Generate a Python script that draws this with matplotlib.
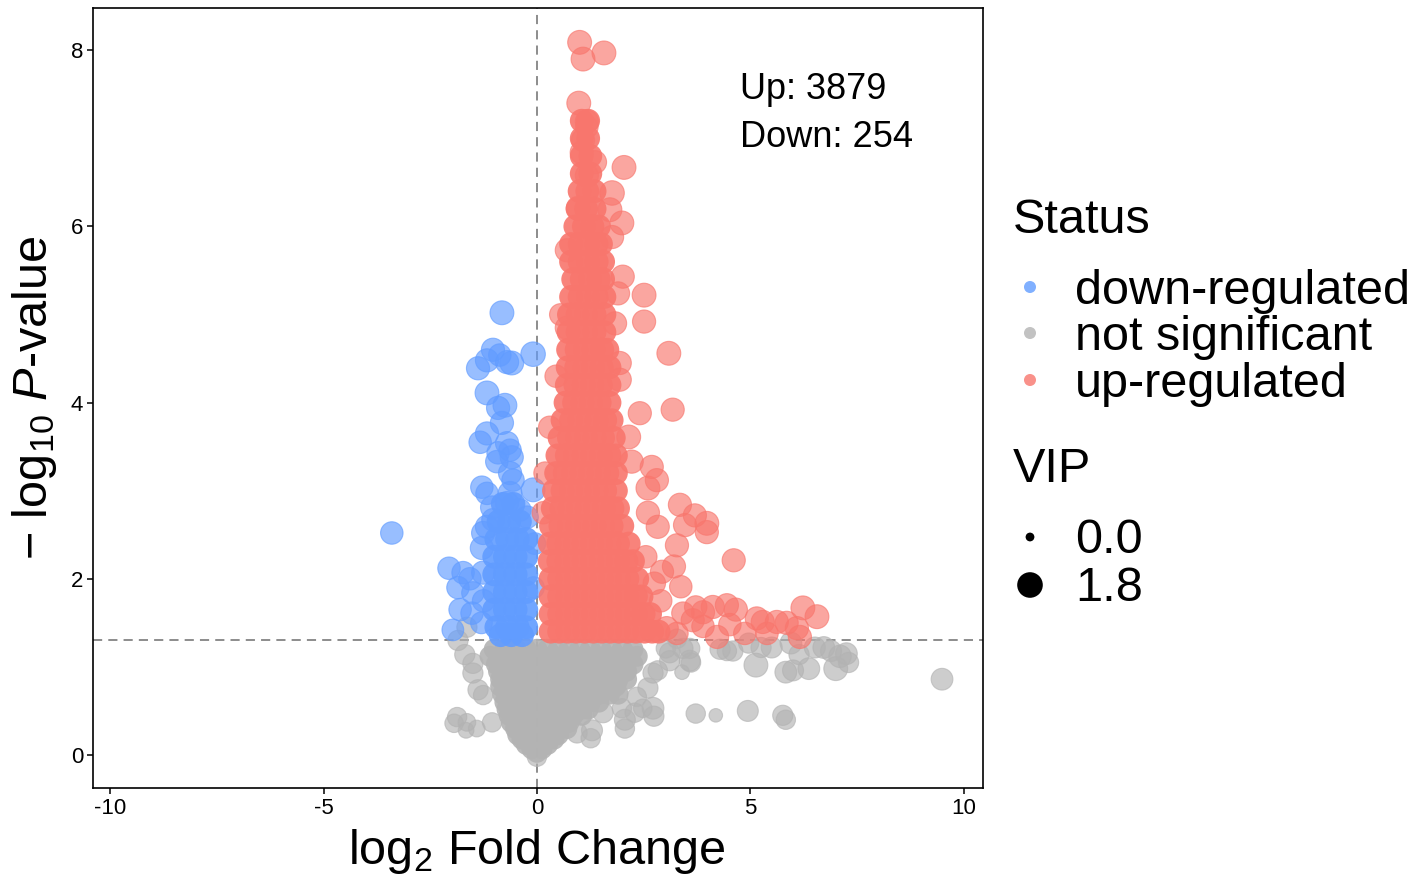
import matplotlib
matplotlib.use("Agg")
import matplotlib.pyplot as plt

plt.rcParams['font.family'] = ['Liberation Sans', 'DejaVu Sans']
plt.rcParams['mathtext.fontset'] = 'custom'
plt.rcParams['mathtext.rm'] = 'Liberation Sans'
plt.rcParams['mathtext.it'] = 'Liberation Sans:italic'
plt.rcParams['mathtext.bf'] = 'Liberation Sans:bold'
plt.rcParams['axes.unicode_minus'] = False

# ---------------- data ----------------
status_labels = ["down-regulated", "not significant", "up-regulated"]
status_colors = ["#619CFF", "#B3B3B3", "#F8766D"]
vip_breaks = [0.0, 1.8]
n_up = 3879
n_down = 254
p_cut = 1.3          # -log10(0.05)
fc_cut = 0.0
x_ticks = [-10, -5, 0, 5, 10]
x_ticklabels = ["-10", "-5", "0", "5", "10"]
y_ticks = [0, 2, 4, 6, 8]
y_ticklabels = ["0", "2", "4", "6", "8"]

# dense cores read row by row: (-log10 p, [log2 FC values]), VIP of core points
up_core_rows = [
    (7.20, [1.05, 1.20]),
    (7.00, [1.05, 1.20]),
    (6.80, [1.05, 1.25]),
    (6.60, [1.05, 1.25]),
    (6.40, [1.00, 1.18, 1.35]),
    (6.20, [0.95, 1.15, 1.35]),
    (6.00, [0.90, 1.10, 1.30, 1.45]),
    (5.80, [0.80, 1.00, 1.20, 1.40, 1.50]),
    (5.60, [0.80, 1.00, 1.20, 1.40, 1.55]),
    (5.40, [0.85, 1.05, 1.25, 1.45, 1.55]),
    (5.20, [0.80, 1.00, 1.20, 1.40, 1.58]),
    (5.00, [0.75, 0.95, 1.15, 1.35, 1.58]),
    (4.80, [0.74, 0.95, 1.15, 1.35, 1.58]),
    (4.60, [0.73, 0.93, 1.13, 1.33, 1.53, 1.65]),
    (4.40, [0.72, 0.92, 1.12, 1.32, 1.52, 1.70]),
    (4.20, [0.70, 0.90, 1.10, 1.30, 1.50, 1.70]),
    (4.00, [0.67, 0.87, 1.07, 1.27, 1.47, 1.70]),
    (3.80, [0.60, 0.80, 1.00, 1.20, 1.40, 1.60, 1.75]),
    (3.60, [0.53, 0.75, 0.95, 1.15, 1.35, 1.55, 1.80]),
    (3.40, [0.48, 0.70, 0.90, 1.10, 1.30, 1.50, 1.70, 1.85]),
    (3.20, [0.45, 0.65, 0.85, 1.05, 1.25, 1.45, 1.65, 1.85]),
    (3.00, [0.40, 0.60, 0.80, 1.00, 1.20, 1.40, 1.60, 1.85]),
    (2.80, [0.37, 0.57, 0.77, 0.97, 1.17, 1.37, 1.57, 1.77, 1.90]),
    (2.60, [0.33, 0.55, 0.75, 0.95, 1.15, 1.35, 1.55, 1.75, 2.00]),
    (2.40, [0.30, 0.50, 0.70, 0.90, 1.10, 1.30, 1.50, 1.70, 1.90, 2.15]),
    (2.20, [0.30, 0.50, 0.70, 0.90, 1.10, 1.30, 1.50, 1.70, 1.90, 2.10, 2.25]),
    (2.00, [0.32, 0.52, 0.72, 0.92, 1.12, 1.32, 1.52, 1.72, 1.92, 2.12, 2.35]),
    (1.80, [0.32, 0.52, 0.72, 0.92, 1.12, 1.32, 1.52, 1.72, 1.92, 2.12, 2.32, 2.45]),
    (1.60, [0.32, 0.52, 0.72, 0.92, 1.12, 1.32, 1.52, 1.72, 1.92, 2.12, 2.32, 2.50, 2.65]),
    (1.40, [0.32, 0.52, 0.72, 0.92, 1.12, 1.32, 1.52, 1.72, 1.92, 2.12, 2.32, 2.52, 2.70, 2.85]),
]
up_core_vip = 1.5

down_core_rows = [
    (2.85, [-0.80, -0.55]),
    (2.65, [-0.90, -0.65, -0.40]),
    (2.45, [-0.95, -0.70, -0.45, -0.25]),
    (2.25, [-1.00, -0.75, -0.50, -0.25]),
    (2.05, [-1.00, -0.75, -0.50, -0.25]),
    (1.85, [-1.00, -0.75, -0.50, -0.25]),
    (1.65, [-1.00, -0.75, -0.50, -0.25]),
    (1.45, [-0.95, -0.70, -0.45, -0.25]),
    (1.36, [-0.85, -0.60, -0.35]),
]
down_core_vip = 1.5

ns_core_rows = [
    (1.20, [-1.00, -0.75, -0.50, -0.25, 0.00, 0.25, 0.50, 0.75, 1.00, 1.25, 1.50, 1.75, 2.00, 2.25]),
    (1.12, [-1.10, -0.85, -0.60, -0.35, -0.10, 0.15, 0.40, 0.65, 0.90, 1.15, 1.40, 1.65, 1.90, 2.15, 2.35]),
    (1.03, [-0.95, -0.70, -0.45, -0.20, 0.05, 0.30, 0.55, 0.80, 1.05, 1.30, 1.55, 1.80, 2.05, 2.25]),
    (0.95, [-0.90, -0.65, -0.40, -0.15, 0.10, 0.35, 0.60, 0.85, 1.10, 1.35, 1.60, 1.85, 2.10]),
    (0.86, [-0.85, -0.60, -0.35, -0.10, 0.15, 0.40, 0.65, 0.90, 1.15, 1.40, 1.65, 1.90, 2.10]),
    (0.78, [-0.85, -0.60, -0.35, -0.10, 0.15, 0.40, 0.65, 0.90, 1.15, 1.40, 1.65, 1.85]),
    (0.69, [-0.80, -0.55, -0.30, -0.05, 0.20, 0.45, 0.70, 0.95, 1.20, 1.45, 1.70, 1.90]),
    (0.60, [-0.75, -0.50, -0.25, 0.00, 0.25, 0.50, 0.75, 1.00, 1.25, 1.45]),
    (0.52, [-0.70, -0.45, -0.20, 0.05, 0.30, 0.55, 0.80, 1.05, 1.20]),
    (0.45, [-0.65, -0.40, -0.15, 0.10, 0.35, 0.60, 0.85, 1.05]),
    (0.37, [-0.60, -0.35, -0.10, 0.15, 0.40, 0.65, 0.75]),
    (0.30, [-0.50, -0.25, 0.00, 0.25, 0.50, 0.70]),
    (0.23, [-0.45, -0.20, 0.05, 0.30, 0.50]),
    (0.18, [-0.35, -0.10, 0.15, 0.40]),
    (0.12, [-0.25, 0.00, 0.25]),
    (0.07, [-0.12, 0.12]),
    (0.03, [0.00]),
]
ns_core_vip = 1.1

# individual points around the cores: (log2 FC, -log10 p, VIP)
down_pts = [
    (-0.82, 5.02, 1.5), (-1.03, 4.60, 1.4), (-1.17, 4.48, 1.4), (-1.38, 4.39, 1.4),
    (-0.70, 4.46, 1.4), (-0.59, 4.45, 1.5), (-0.87, 4.54, 1.3), (-0.09, 4.55, 1.6),
    (-1.17, 4.11, 1.5), (-0.91, 3.94, 1.4), (-0.75, 3.97, 1.5), (-0.82, 3.77, 1.4),
    (-1.17, 3.65, 1.4), (-1.33, 3.55, 1.3), (-0.70, 3.54, 1.4), (-0.63, 3.46, 1.3),
    (-0.91, 3.43, 1.3), (-0.59, 3.38, 1.4), (-0.94, 3.33, 1.3), (-0.63, 3.20, 1.4),
    (-0.56, 3.12, 1.3), (-1.29, 3.04, 1.3), (-1.17, 2.97, 1.3), (-0.09, 3.01, 1.5),
    (-0.63, 2.97, 1.5), (-0.70, 2.86, 1.4), (-1.05, 2.81, 1.4), (-0.40, 2.78, 1.3),
    (-0.23, 2.70, 1.3), (-1.17, 2.59, 1.4), (-1.26, 2.52, 1.4), (-1.03, 2.67, 1.3),
    (-3.40, 2.52, 1.3), (-1.29, 2.35, 1.4), (-2.06, 2.12, 1.3), (-1.73, 2.07, 1.3),
    (-1.57, 2.00, 1.3), (-1.85, 1.90, 1.3), (-1.50, 1.84, 1.3), (-1.80, 1.65, 1.3),
    (-1.52, 1.61, 1.3), (-1.97, 1.42, 1.2), (-1.26, 2.07, 1.4), (-1.25, 1.75, 1.3),
    (-1.30, 1.50, 1.2), (-0.05, 2.40, 1.2), (-0.08, 1.90, 1.2),
]

up_pts = [
    (1.00, 8.09, 1.5), (1.08, 7.90, 1.5), (1.57, 7.97, 1.5), (0.98, 7.40, 1.5),
    (1.17, 7.19, 1.4), (1.17, 7.13, 1.3), (1.08, 6.98, 1.4), (1.05, 6.84, 1.4),
    (1.36, 6.73, 1.4), (1.17, 6.58, 1.4), (2.04, 6.67, 1.5), (1.76, 6.38, 1.6),
    (1.71, 6.19, 1.5), (1.99, 6.04, 1.5), (1.76, 5.88, 1.4), (0.96, 6.21, 1.4),
    (0.70, 5.73, 1.4), (2.01, 5.43, 1.4), (1.90, 5.24, 1.4), (2.51, 5.22, 1.5),
    (2.51, 4.92, 1.4), (1.83, 4.90, 1.4), (0.70, 4.85, 1.4), (3.09, 4.56, 1.5),
    (1.94, 4.45, 1.4), (1.94, 4.26, 1.4), (3.18, 3.92, 1.4), (2.41, 3.88, 1.4),
    (2.15, 3.61, 1.5), (2.22, 3.33, 1.4), (2.69, 3.27, 1.4), (2.81, 3.12, 1.4),
    (2.60, 3.03, 1.5), (3.35, 2.84, 1.4), (3.70, 2.72, 1.4), (3.98, 2.63, 1.5),
    (3.98, 2.53, 1.4), (3.47, 2.61, 1.4), (3.28, 2.38, 1.4), (2.83, 2.59, 1.4),
    (2.60, 2.75, 1.4), (4.61, 2.21, 1.4), (3.21, 2.14, 1.4), (2.93, 2.08, 1.4),
    (3.37, 1.91, 1.3), (3.72, 1.68, 1.3), (3.89, 1.62, 1.4), (4.12, 1.68, 1.4),
    (4.45, 1.70, 1.4), (4.66, 1.65, 1.4), (5.15, 1.55, 1.4), (5.29, 1.51, 1.4),
    (5.62, 1.51, 1.4), (5.85, 1.50, 1.4), (6.23, 1.67, 1.5), (6.56, 1.57, 1.5),
    (6.09, 1.44, 1.4), (6.16, 1.34, 1.4), (5.39, 1.38, 1.3), (4.22, 1.34, 1.4),
    (3.65, 1.53, 1.4), (3.89, 1.46, 1.3), (4.87, 1.38, 1.3), (4.52, 1.48, 1.3),
    (3.04, 1.44, 1.4), (3.28, 1.38, 1.3), (3.42, 1.61, 1.3), (2.90, 1.75, 1.3),
    (2.75, 1.95, 1.3), (2.55, 2.25, 1.3), (0.30, 3.72, 1.3), (0.19, 3.20, 1.3),
    (0.15, 2.75, 1.3), (0.45, 4.30, 1.3), (0.55, 5.00, 1.2),
]

ns_pts = [
    (-1.69, 1.14, 1.0), (-1.50, 1.04, 1.0), (-1.50, 0.93, 1.0), (-1.38, 0.74, 1.0),
    (-1.26, 0.68, 0.9), (-1.87, 0.43, 0.9), (-1.94, 0.36, 0.8), (-1.64, 0.37, 0.7),
    (-1.66, 0.28, 0.5), (-1.41, 0.30, 0.6), (-1.05, 0.37, 0.9), (1.29, 0.28, 1.1),
    (0.94, 0.25, 1.0), (1.26, 0.19, 0.9), (1.55, 0.48, 1.0), (2.06, 0.40, 1.1),
    (2.06, 0.30, 0.9), (2.29, 0.48, 0.9), (2.48, 0.53, 0.8), (2.72, 0.53, 1.2),
    (1.99, 0.53, 0.9), (2.60, 0.76, 1.0), (2.72, 0.93, 1.0), (2.83, 0.96, 0.9),
    (3.11, 1.16, 1.0), (3.40, 0.94, 0.4), (2.34, 0.66, 0.9), (2.74, 0.44, 1.0),
    (3.11, 1.07, 1.0), (3.02, 1.21, 0.9), (3.58, 1.07, 1.1), (3.58, 1.21, 1.0),
    (3.28, 1.32, 0.9), (3.72, 0.47, 0.9), (4.19, 0.45, 0.3), (4.94, 0.50, 1.1),
    (5.76, 0.45, 1.0), (5.83, 0.40, 0.9), (5.13, 1.02, 1.5), (5.83, 0.94, 1.2),
    (6.00, 0.96, 1.1), (6.37, 0.98, 1.2), (7.00, 0.98, 1.5), (7.10, 1.12, 1.3),
    (6.72, 1.22, 1.2), (6.89, 1.18, 1.1), (6.51, 1.22, 1.1), (5.50, 1.22, 1.1),
    (5.25, 1.22, 1.0), (4.59, 1.18, 1.0), (4.45, 1.18, 0.9), (4.29, 1.20, 1.0),
    (4.96, 1.27, 1.0), (6.14, 1.14, 1.0), (5.95, 1.27, 1.2), (9.49, 0.86, 1.2),
    (3.42, 1.21, 1.0), (3.61, 1.05, 0.9), (-1.64, 1.45, 1.0), (-1.85, 1.30, 1.0),
    (0.00, -0.02, 0.9), (7.25, 1.15, 1.2), (7.30, 1.05, 1.0),
]


def core_points(core_rows, core_vip):
    xs, ys, vs = [], [], []
    for yv, row in core_rows:
        for xv in row:
            xs.append(xv); ys.append(yv); vs.append(core_vip)
    return xs, ys, vs


def vip_size(v):
    return 45 + v / 1.8 * 300


# ---------------- figure ----------------
W, H = 1418, 881
fig = plt.figure(figsize=(W / 100, H / 100), dpi=100)
ax = fig.add_axes([93 / W, 1 - 788 / H, 890 / W, 780 / H])
ax.set_xlim(-10.4, 10.45)
ax.set_ylim(-0.375, 8.48)

line_kw = dict(color="#6E6E6E", lw=1.1, ls=(0, (6, 4)), zorder=1)
ax.axhline(p_cut, **line_kw)
ax.axvline(fc_cut, **line_kw)

groups = [
    (ns_core_rows, ns_core_vip, ns_pts, status_colors[1], 2),
    (down_core_rows, down_core_vip, down_pts, status_colors[0], 4),
    (up_core_rows, up_core_vip, up_pts, status_colors[2], 6),
]
for rows, cv, pts, col, z in groups:
    cx, cy, cvs = core_points(rows, cv)
    ax.scatter(cx, cy, s=[vip_size(v) for v in cvs], c=col, alpha=0.9,
               edgecolors="none", zorder=z)
    px = [p[0] for p in pts]
    py = [p[1] for p in pts]
    pv = [p[2] for p in pts]
    ax.scatter(px, py, s=[vip_size(v) for v in pv], c=col, alpha=0.65,
               edgecolors=col, linewidths=0.8, zorder=z + 1)

ax.text(4.75, 7.443, f"Up: {n_up}", fontsize=26, ha="left", va="baseline", zorder=9)
ax.text(4.75, 6.898, f"Down: {n_down}", fontsize=26, ha="left", va="baseline", zorder=9)

ax.set_xticks(x_ticks)
ax.set_xticklabels(x_ticklabels)
ax.set_yticks(y_ticks)
ax.set_yticklabels(y_ticklabels)
ax.tick_params(axis="both", labelsize=16, length=4, width=1.1, color="black",
               labelcolor="black", pad=3)
for sp in ax.spines.values():
    sp.set_linewidth(1.2)
    sp.set_color("black")

ax.set_xlabel(r"$\mathrm{log}_{2}$ Fold Change", fontsize=35, va="baseline")
ax.xaxis.set_label_coords(0.499, (788 - 864) / 780)
ax.set_ylabel(r"$-\ \mathrm{log}_{10}\ \mathit{P}$-value", fontsize=35, va="baseline")
ax.yaxis.set_label_coords((47 - 93) / 890, 0.5)

# ---------------- legend (pixel layout) ----------------
lax = fig.add_axes([0, 0, 1, 1], zorder=10)
lax.set_xlim(0, W)
lax.set_ylim(H, 0)
lax.set_axis_off()
lax.patch.set_alpha(0)

lax.text(1013, 233, "Status", fontsize=35, ha="left", va="baseline")
status_dot_y = [287, 333, 380]
status_text_y = [304, 350, 397]
for lab, col, dy, ty in zip(status_labels, status_colors, status_dot_y, status_text_y):
    lax.scatter([1030], [dy], s=75, c=col, alpha=0.8, edgecolors="none")
    lax.text(1075, ty, lab, fontsize=35, ha="left", va="baseline")

lax.text(1013, 482, "VIP", fontsize=35, ha="left", va="baseline")
vip_dot_y = [537, 585]
vip_text_y = [553, 601]
for v, dy, ty in zip(vip_breaks, vip_dot_y, vip_text_y):
    lax.scatter([1030], [dy], s=vip_size(v) - 5, c="black", edgecolors="none")
    lax.text(1075, ty, f"{v:.1f}", fontsize=35, ha="left", va="baseline")

fig.savefig("out.png", dpi=100)
